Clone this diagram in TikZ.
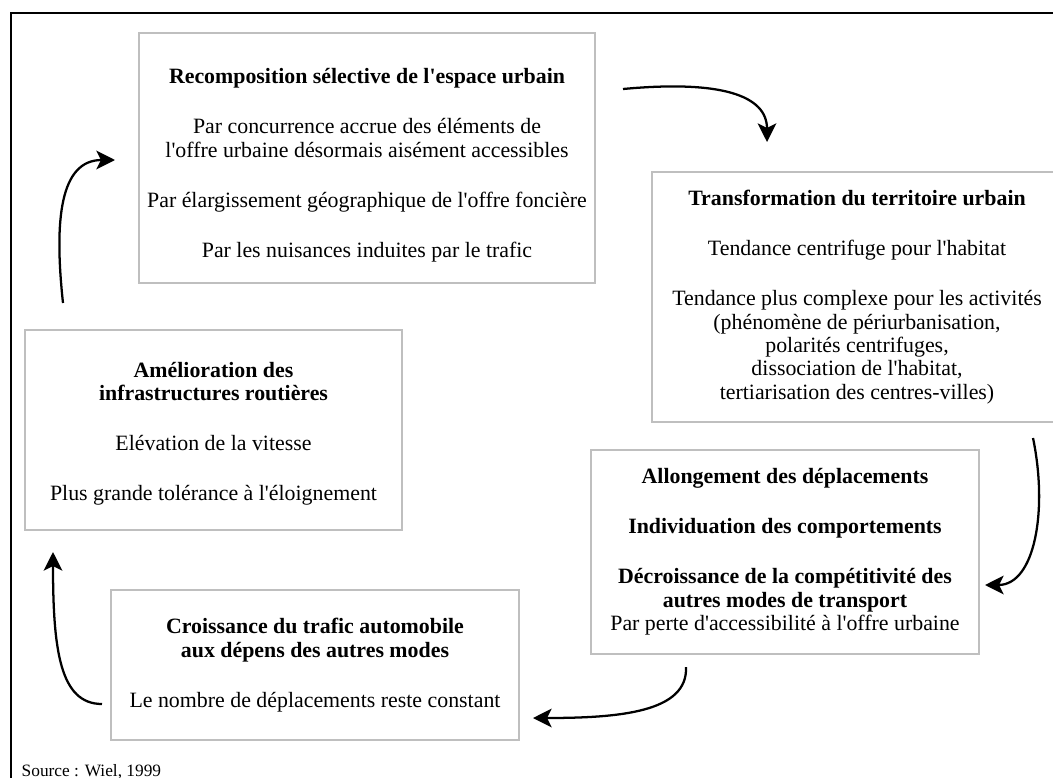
\documentclass[tikz,border=0pt]{standalone}
\usepackage{fontspec}
\setmainfont{Liberation Serif}[Ligatures=TeXOff]
\usetikzlibrary{arrows.meta}
\tikzset{
  box/.style={draw=black!25,line width=1.2pt,align=center,inner sep=0pt,
    font=\fontsize{16.4pt}{17.5pt}\selectfont},
  cyc/.style={line width=1.7pt,-{Stealth[length=14pt,width=14pt,inset=3.5pt]}}
}
\newcommand{\sk}{\\[20pt]}
\begin{document}
\begin{tikzpicture}[x=0.75pt,y=-0.75pt]
\clip (0,0) rectangle (1053,778);
\fill[white] (0,0) rectangle (1053,778);
\draw[line width=1.5pt] (1060,13) -- (11,13) -- (11,790);

% les cinq cadres
\node[box,minimum width=342pt,minimum height=187.5pt] (recomp) at (367,158)
  {\rule{0pt}{22pt}\textbf{Recomposition sélective de l'espace urbain}\sk
   Par concurrence accrue des éléments de\\
   l'offre urbaine désormais aisément accessibles\sk
   Par élargissement géographique de l'offre foncière\sk
   Par les nuisances induites par le trafic};
\node[box,minimum width=307.5pt,minimum height=187.5pt] (transf) at (857,297)
  {\textbf{Transformation du territoire urbain}\sk
   Tendance centrifuge pour l'habitat\sk
   Tendance plus complexe pour les activités\\
   (phénomène de périurbanisation,\\
   polarités centrifuges,\\
   dissociation de l'habitat,\\
   tertiarisation des centres-villes)};
\node[box,minimum width=291pt,minimum height=153pt] (allong) at (785,552)
  {\textbf{Allongement des déplacements}\sk
   \textbf{Individuation des comportements}\sk
   \textbf{Décroissance de la compétitivité des}\\
   \textbf{autres modes de transport}\\
   Par perte d'accessibilité à l'offre urbaine};
\node[box,minimum width=306pt,minimum height=112.5pt] (crois) at (315,665)
  {\textbf{Croissance du trafic automobile}\\
   \textbf{aux dépens des autres modes}\sk
   Le nombre de déplacements reste constant};
\node[box,minimum width=282.75pt,minimum height=150pt] (amelio) at (213.5,430)
  {\rule{0pt}{17pt}\textbf{Amélioration des}\\
   \textbf{infrastructures routières}\sk
   Elévation de la vitesse\sk
   Plus grande tolérance à l'éloignement};

% bouts des fleches
\coordinate (a1) at (63,303);   \coordinate (b1) at (115,160);
\coordinate (a2) at (623,89);   \coordinate (b2) at (767,142);
\coordinate (a3) at (1033,438); \coordinate (b3) at (985,585);
\coordinate (a4) at (686,667);  \coordinate (b4) at (533,718);
\coordinate (a5) at (102,704);  \coordinate (b5) at (53,552);

\draw[cyc] (a1) .. controls (54,220) and (60,160) .. (b1);
\draw[cyc] (a2) .. controls (720,80) and (767,95) .. (b2);
\draw[cyc] (a3) .. controls (1048,510) and (1035,585) .. (b3);
\draw[cyc] (a4) .. controls (688,712) and (620,718) .. (b4);
\draw[cyc] (a5) .. controls (60,704) and (53,650) .. (b5);

\node[anchor=base west,font=\fontsize{13pt}{15pt}\selectfont] (src) at (17,776)
  {Source : Wiel, 1999};
\end{tikzpicture}
\end{document}
